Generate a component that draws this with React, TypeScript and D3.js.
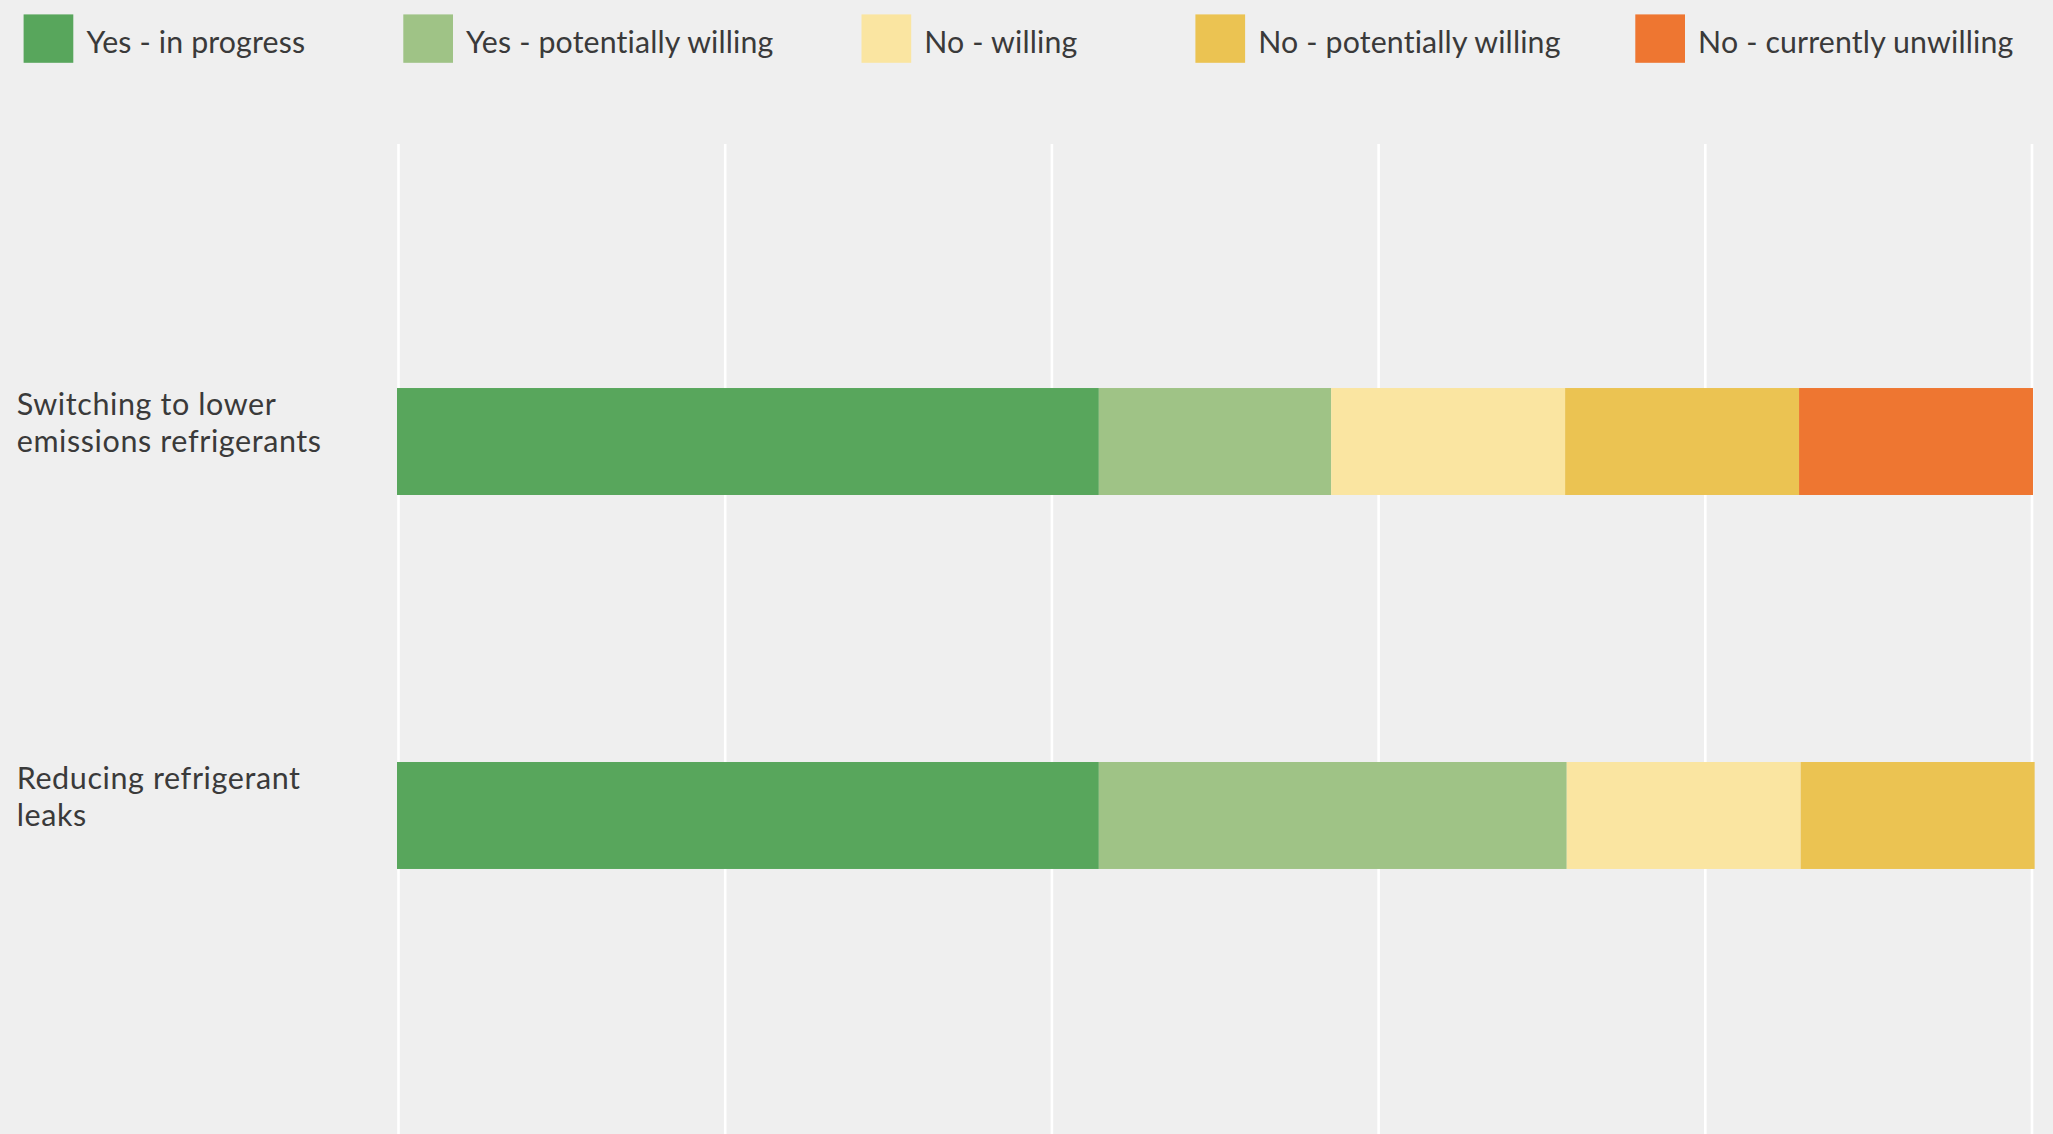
import React from "react";
import * as d3 from "d3";

const categories = ["Switching to lower emissions refrigerants", "Reducing refrigerant leaks"];
const categoryLines = [["Switching to lower", "emissions refrigerants"], ["Reducing refrigerant", "leaks"]];
const seriesNames = ["Yes - in progress", "Yes - potentially willing", "No - willing", "No - potentially willing", "No - currently unwilling"];
const seriesColors = ["#58a65c", "#9fc386", "#fae5a1", "#ebc352", "#ee7631"];
const yesInProgress = [42.9, 42.9];
const yesPotentiallyWilling = [14.2, 28.6];
const noWilling = [14.3, 14.3];
const noPotentiallyWilling = [14.3, 14.3];
const noCurrentlyUnwilling = [14.3, 0];
const gridTicks = [0, 20, 40, 60, 80, 100];

const W = 2053;
const H = 1134;
const FONT = "Lato, 'Noto Sans', sans-serif";
const legendX = [23.6, 403.3, 861.5, 1195.4, 1635.3];

export default function App() {
  const series = [yesInProgress, yesPotentiallyWilling, noWilling, noPotentiallyWilling, noCurrentlyUnwilling];
  const rows = categories.map((c, i) => {
    const r: any = { category: c };
    seriesNames.forEach((s, j) => (r[s] = series[j][i]));
    return r;
  });
  const stacked = d3.stack().keys(seriesNames)(rows);
  const x = d3.scaleLinear().domain([0, 100]).range([397, 2033]);
  const xGrid = d3.scaleLinear().domain([0, 100]).range([398.5, 2032]);
  const y = d3.scaleBand().domain(categories).range([121, 1136]).paddingInner(0.714).paddingOuter(0.714);

  return (
    <svg width={W} height={H} style={{ position: "absolute", left: 0, top: 0, display: "block" }}>
      <style>{`body{margin:0;overflow:hidden}`}</style>
      <rect x={0} y={0} width={W} height={H} fill="#efefef" />
      {gridTicks.map((t) => (
        <line key={t} x1={xGrid(t)} x2={xGrid(t)} y1={144} y2={H} stroke="#ffffff" strokeWidth={2.6} />
      ))}
      {stacked.map((layer, j) => (
        <g key={layer.key} fill={seriesColors[j]}>
          {layer.map((d, i) =>
            d[1] - d[0] > 0 ? (
              <rect
                key={i}
                x={x(d[0])}
                y={y(categories[i])}
                width={x(d[1]) - x(d[0])}
                height={y.bandwidth()}
              />
            ) : null
          )}
        </g>
      ))}
      {categories.map((c, i) => (
        <text key={c} x={16.7} y={(y(c) as number) + 27} fontFamily={FONT} fontSize={30.5} letterSpacing={0.6} fill="#3a3a3a">
          {categoryLines[i].map((ln, k) => (
            <tspan key={k} x={16.7} dy={k === 0 ? 0 : 36.8}>
              {ln}
            </tspan>
          ))}
        </text>
      ))}
      {seriesNames.map((s, j) => (
        <g key={s} transform={`translate(${legendX[j]},0)`}>
          <rect x={0} y={14.4} width={49.7} height={48.4} fill={seriesColors[j]} />
          <text x={62.8} y={53.3} fontFamily={FONT} fontSize={30.3} letterSpacing={0.15} fill="#3a3a3a">
            {s}
          </text>
        </g>
      ))}
    </svg>
  );
}
